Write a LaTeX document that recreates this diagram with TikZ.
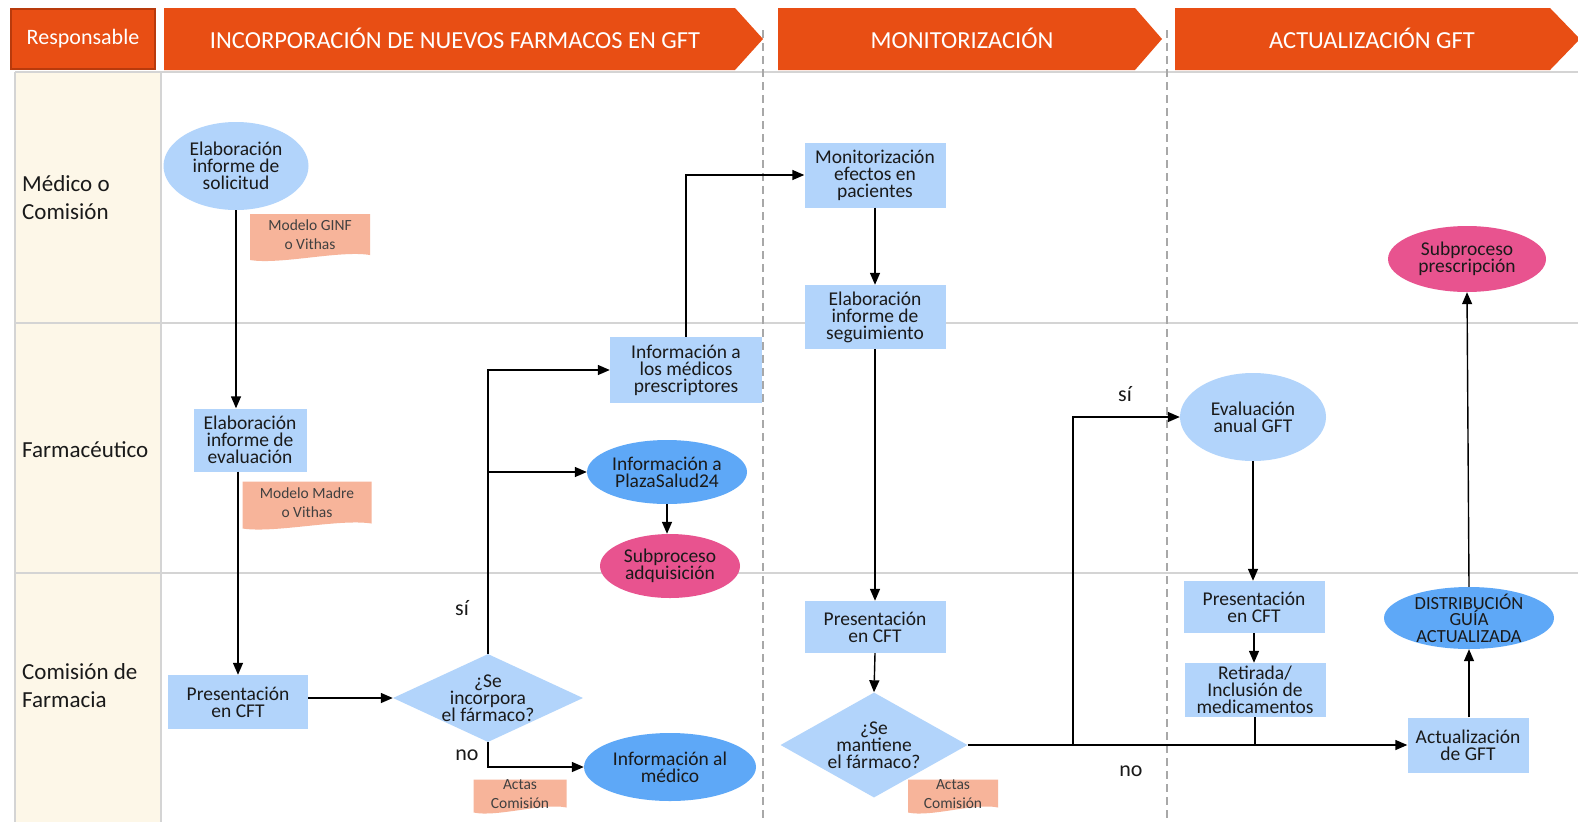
\documentclass[tikz,border=0pt]{standalone}
\usepackage{fontspec}
\setmainfont{Carlito}
\usetikzlibrary{shapes.geometric,arrows.meta,backgrounds,calc}

\definecolor{hdr}{HTML}{E84E14}
\definecolor{hdrdark}{HTML}{B83A0C}
\definecolor{lblue}{HTML}{B2D4FB}
\definecolor{mblue}{HTML}{5EA8F7}
\definecolor{pinkish}{HTML}{E8538F}
\definecolor{salmon}{HTML}{F7B49A}
\definecolor{lanebg}{HTML}{FDF7E8}
\definecolor{gridgray}{HTML}{D4D4D4}
\definecolor{sepgray}{HTML}{A8A8A8}
\definecolor{ink}{HTML}{1A1A1A}
\definecolor{docink}{HTML}{404040}

% document shape: flat top, wavy bottom, text on top
\newcommand{\docnode}[6]{%
  \fill[salmon] ({#2-#4/2},{#3-#5/2}) -- ({#2+#4/2},{#3-#5/2})
    -- ({#2+#4/2},{#3+#5/2-5})
    .. controls ({#2+#4/4},{#3+#5/2-10}) and ({#2-#4/4},{#3+#5/2+5}) ..
    ({#2-#4/2},{#3+#5/2}) -- cycle;
  \node[doctext] (#1) at (#2,{#3-2}) {#6};}

\begin{document}
\begin{tikzpicture}[x=1pt,y=-1pt,
  nodefont/.style={font=\fontsize{19.5}{17}\selectfont, text=ink, align=center, inner sep=0pt},
  lbox/.style={nodefont, rectangle, fill=lblue},
  lell/.style={nodefont, ellipse, fill=lblue, inner sep=-3pt},
  mell/.style={nodefont, ellipse, fill=mblue, inner sep=-3pt},
  pell/.style={nodefont, ellipse, fill=pinkish, inner sep=-3pt},
  dia/.style={nodefont, diamond, fill=lblue, inner sep=-6pt},
  doctext/.style={font=\fontsize{15.5}{19}\selectfont, text=docink, align=center, inner sep=0pt},
  hdrtext/.style={font=\fontsize{24.5}{26}\selectfont, text=white, inner sep=0pt},
  lanelbl/.style={font=\fontsize{23}{28}\selectfont, text=ink, align=left, inner sep=0pt, anchor=west},
  lbl/.style={font=\fontsize{22}{24}\selectfont, text=ink, inner sep=0pt},
  flow/.style={draw=black, line width=1.4pt, -{Triangle[length=12pt,width=10pt]}},
  link/.style={draw=black, line width=1.4pt},
  gridline/.style={draw=gridgray, line width=2pt},
  sepline/.style={draw=sepgray, line width=1.5pt, dash pattern=on 8pt off 5pt}
]
\useasboundingbox (0,0) rectangle (1578,822);
\fill[white] (0,0) rectangle (1578,822);

% swimlane frame
\fill[lanebg] (15,72) rectangle (161,822);
\draw[gridline] (15,72) -- (15,822);
\draw[gridline] (161,72) -- (161,822);
\draw[gridline] (15,72) -- (1578,72);
\draw[gridline] (15,323) -- (1578,323);
\draw[gridline] (15,573) -- (1578,573);

% phase separators
\draw[sepline] (763,30) -- (763,822);
\draw[sepline] (1167,30) -- (1167,822);

% header
\node[draw=hdrdark, line width=1.5pt, fill=hdr, minimum width=144pt, minimum height=60pt,
      font=\fontsize{22}{24}\selectfont, text=white, inner sep=0pt] (resp) at (83,39) {Responsable};
\fill[hdr] (164,8) -- (735,8) -- (763,39) -- (735,70) -- (164,70) -- cycle;
\fill[hdr] (778,8) -- (1135,8) -- (1162,39) -- (1135,70) -- (778,70) -- cycle;
\fill[hdr] (1175,8) -- (1550,8) -- (1580,39) -- (1550,70) -- (1175,70) -- cycle;
\node[hdrtext] (ph1) at (455,38) {INCORPORACIÓN DE NUEVOS FARMACOS EN GFT};
\node[hdrtext] (ph2) at (962,38) {MONITORIZACIÓN};
\node[hdrtext] (ph3) at (1372,38) {ACTUALIZACIÓN GFT};

% lane titles
\node[lanelbl] (lane1) at (22,198) {Médico o\\Comisión};
\node[lanelbl] (lane2) at (22,450) {Farmacéutico};
\node[lanelbl] (lane3) at (22,686) {Comisión de\\Farmacia};

% incorporation of new drugs
\node[lell, minimum width=145pt, minimum height=88pt] (solic) at (236,166) {Elaboración\\informe de\\solicitud};
\docnode{docginf}{310}{237}{120}{46}{Modelo GINF\\o Vithas}
\node[lbox, minimum width=113pt, minimum height=63pt] (evalrep) at (250,440) {Elaboración\\informe de\\evaluación};
\docnode{docmadre}{307}{505}{129}{47}{Modelo Madre\\o Vithas}
\node[lbox, minimum width=140pt, minimum height=54pt] (cft1) at (238,702) {Presentación\\en CFT};
\node[dia, aspect=2.16, minimum width=190pt, minimum height=88pt] (incorp) at (488,698) {¿Se\\incorpora\\el fármaco?};
\node[lbox, minimum width=152pt, minimum height=66pt] (infmed) at (686,370) {Información a\\los médicos\\prescriptores};
\node[mell, minimum width=160pt, minimum height=64pt] (plaza) at (667,472) {Información a\\PlazaSalud24};
\node[pell, minimum width=140pt, minimum height=64pt] (adq) at (670,566) {Subproceso\\adquisición};
\node[mell, minimum width=172pt, minimum height=68pt] (infal) at (670,767) {Información al\\médico};
\docnode{actas1}{520}{796}{93}{33}{Actas\\Comisión}

% monitoring
\node[lbox, minimum width=141pt, minimum height=65pt] (monit) at (875,175) {Monitorización\\efectos en\\pacientes};
\node[lbox, minimum width=141pt, minimum height=64pt] (seguim) at (875,317) {Elaboración\\informe de\\seguimiento};
\node[lbox, minimum width=141pt, minimum height=52pt] (cft2) at (875,627) {Presentación\\en CFT};
\node[dia, aspect=1.78, minimum width=187pt, minimum height=105pt] (mant) at (874,745) {¿Se\\mantiene\\el fármaco?};
\docnode{actas2}{953}{796}{90}{33}{Actas\\Comisión}

% formulary update
\node[lell, minimum width=146pt, minimum height=88pt] (anual) at (1253,417) {Evaluación\\anual GFT};
\node[lbox, minimum width=141pt, minimum height=52pt] (cft3) at (1254,607) {Presentación\\en CFT};
\node[lbox, minimum width=141pt, minimum height=54pt] (retir) at (1255,690) {Retirada/\\Inclusión de\\medicamentos};
\node[pell, minimum width=158pt, minimum height=66pt] (presc) at (1467,259) {Subproceso\\prescripción};
\node[mell, minimum width=170pt, minimum height=62pt, inner sep=-10pt, font=\fontsize{18.5}{16.5}\selectfont] (distr) at (1469,618) {DISTRIBUCIÓN\\GUÍA\\ACTUALIZADA};
\node[lbox, minimum width=121pt, minimum height=55pt] (actual) at (1468,745) {Actualización\\de GFT};

% decision labels
\node[lbl] (si1) at (462,608) {sí};
\node[lbl] (no1) at (467,755) {no};
\node[lbl] (si2) at (1125,394) {sí};
\node[lbl] (no2) at (1131,771) {no};

% connectors
\draw[flow] (solic.south) -- (solic.south |- evalrep.north);
\draw[flow] (evalrep.south -| cft1.north) -- (cft1.north);
\draw[flow] (cft1.east |- incorp.west) -- (incorp.west);
\draw[flow] (incorp.north) |- (infmed.west);
\draw[flow] (incorp.north |- plaza.west) -- (plaza.west);
\draw[flow] (incorp.south) |- (infal.west);
\draw[flow] (plaza.south) -- (plaza.south |- adq.north);
\draw[flow] (infmed.north) |- (monit.west);
\draw[flow] (monit.south) -- (seguim.north);
\draw[flow] (seguim.south) -- (cft2.north);
\draw[flow] (cft2.south) -- (mant.north);
\draw[flow] (mant.east) -- (actual.west);
\coordinate (split) at (1073,745);
\draw[flow] (split) |- (anual.west);
\draw[flow] (anual.south) -- (anual.south |- cft3.north);
\draw[flow] (cft3.south) -- (cft3.south |- retir.north);
\draw[link] (retir.south) -- (retir.south |- actual.west);
\draw[flow] (actual.north -| distr.south) -- (distr.south);
\draw[flow] (distr.north) -- (presc.south);
\end{tikzpicture}
\end{document}
